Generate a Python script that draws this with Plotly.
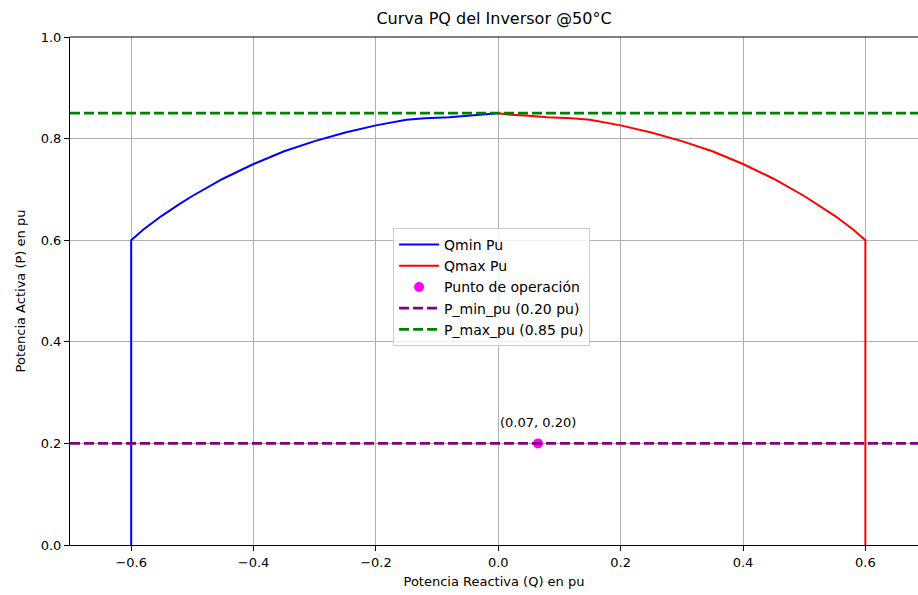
import plotly.graph_objects as go

# Data
q_min = [-0.60, -0.60, -0.58, -0.55, -0.52, -0.50, -0.45, -0.40, -0.35, -0.30, -0.25, -0.20, -0.15, -0.12, -0.08, -0.05, -0.02, 0.00]
p_min_curve = [0.00, 0.600, 0.621, 0.648, 0.672, 0.687, 0.721, 0.750, 0.775, 0.795, 0.812, 0.826, 0.837, 0.840, 0.842, 0.845, 0.848, 0.850]
q_max = [0.00, 0.02, 0.05, 0.08, 0.12, 0.15, 0.20, 0.25, 0.30, 0.35, 0.40, 0.45, 0.50, 0.52, 0.55, 0.58, 0.60, 0.60]
p_max_curve = [0.850, 0.847, 0.845, 0.842, 0.840, 0.837, 0.826, 0.812, 0.795, 0.775, 0.750, 0.721, 0.687, 0.672, 0.648, 0.621, 0.600, 0.00]
op_q = [0.065]
op_p = [0.20]
op_label = "(0.07, 0.20)"
p_min_pu = 0.20
p_max_pu = 0.85
x_range = [-0.7, 0.686]
x_ticks = [-0.6, -0.4, -0.2, 0.0, 0.2, 0.4, 0.6]
y_ticks = [0.0, 0.2, 0.4, 0.6, 0.8, 1.0]

font = "DejaVu Sans"
fig = go.Figure()
fig.add_trace(go.Scatter(x=q_min, y=p_min_curve, mode="lines", name="Qmin Pu",
                         line=dict(color="blue", width=2)))
fig.add_trace(go.Scatter(x=q_max, y=p_max_curve, mode="lines", name="Qmax Pu",
                         line=dict(color="red", width=2)))
fig.add_trace(go.Scatter(x=op_q, y=op_p, mode="markers", name="Punto de operación",
                         marker=dict(color="magenta", size=10)))
fig.add_trace(go.Scatter(x=x_range, y=[p_min_pu, p_min_pu], mode="lines",
                         name=f"P_min_pu ({p_min_pu:.2f} pu)",
                         line=dict(color="purple", width=2.7, dash="10px,4px")))
fig.add_trace(go.Scatter(x=x_range, y=[p_max_pu, p_max_pu], mode="lines",
                         name=f"P_max_pu ({p_max_pu:.2f} pu)",
                         line=dict(color="green", width=2.7, dash="10px,4px")))

fig.add_annotation(x=op_q[0], y=op_p[0], text=op_label, showarrow=False,
                   yshift=21, font=dict(family=font, size=13, color="black"))

axis_common = dict(showline=True, linecolor="black", linewidth=1, mirror=False,
                   ticks="outside", ticklen=5, tickcolor="black", tickwidth=1,
                   showgrid=True, gridcolor="#b0b0b0", gridwidth=1, zeroline=False,
                   tickfont=dict(family=font, size=13, color="black"),
                   tickformat=".1f")

fig.update_layout(
    width=918, height=595,
    margin=dict(l=70, r=0, t=37, b=50),
    paper_bgcolor="white", plot_bgcolor="white",
    title=dict(text="Curva PQ del Inversor @50°C", x=0.5, xref="paper", xanchor="center",
               y=1 - 18 / 595, yanchor="middle", font=dict(family=font, size=16, color="black")),
    xaxis=dict(range=x_range, tickvals=x_ticks,
               title=dict(text="Potencia Reactiva (Q) en pu", standoff=8,
                          font=dict(family=font, size=13, color="black")),
               **axis_common),
    yaxis=dict(range=[0, 1.0], tickvals=y_ticks,
               title=dict(text="Potencia Activa (P) en pu", standoff=12,
                          font=dict(family=font, size=13, color="black")),
               **axis_common),
    legend=dict(x=0.381, y=0.624, xanchor="left", yanchor="top",
                bgcolor="rgba(255,255,255,0.8)", bordercolor="#cccccc", borderwidth=1,
                font=dict(family=font, size=14, color="black"), tracegroupgap=0,
                itemwidth=40),
    showlegend=True,
)
# top spine
fig.add_shape(type="line", xref="paper", yref="paper", x0=0, x1=1, y0=1, y1=1,
              line=dict(color="black", width=1))

fig.write_html("out.html")
